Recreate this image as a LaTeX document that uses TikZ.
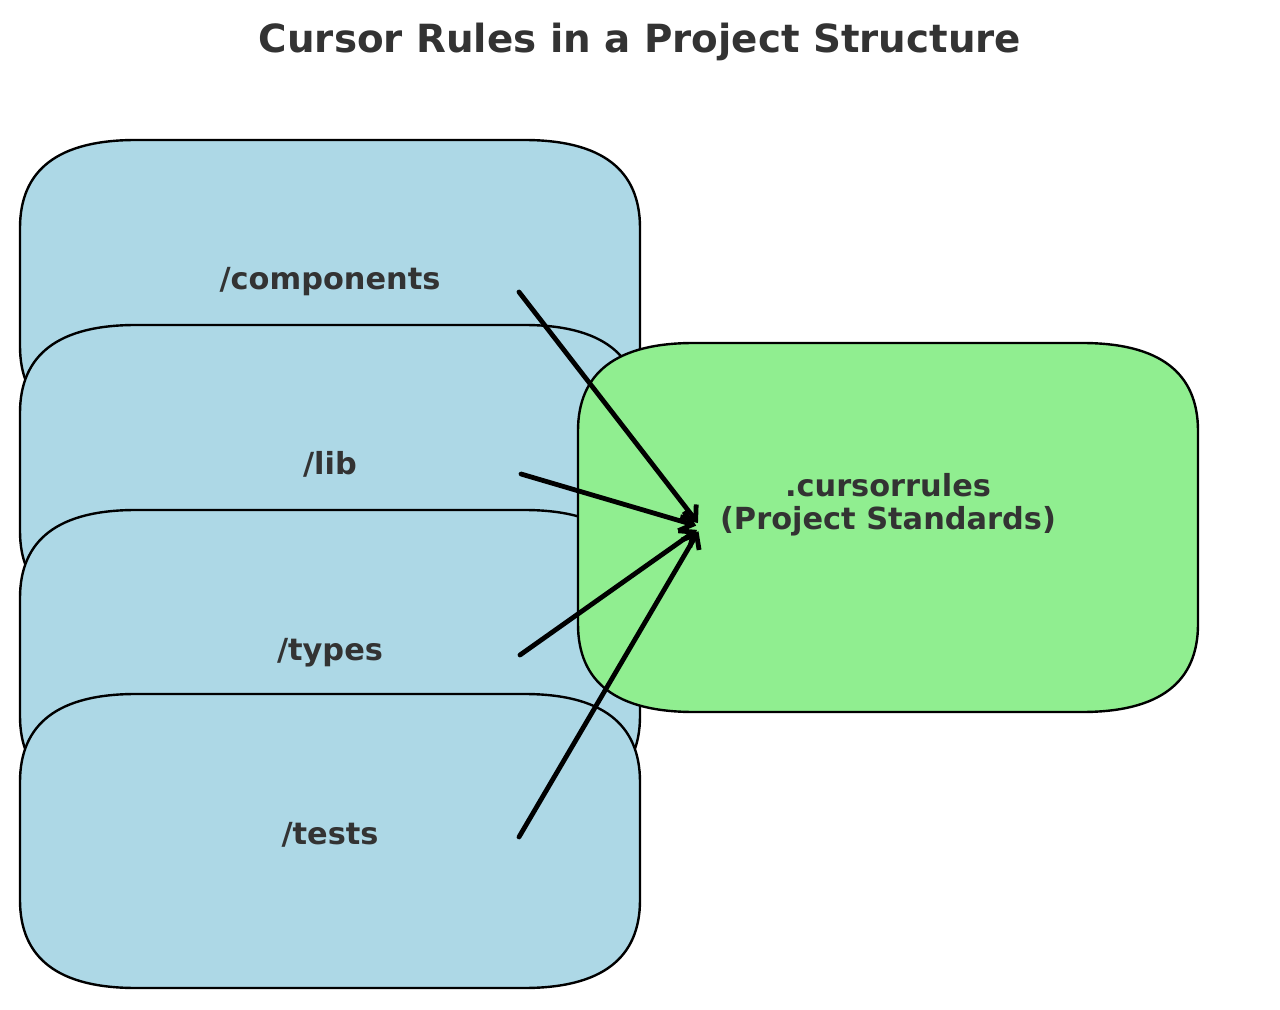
\documentclass[tikz,border=0pt]{standalone}
\usepackage{fontspec}
\setmainfont{DejaVu Sans}
\usetikzlibrary{arrows.meta}

\definecolor{boxblue}{HTML}{ADD8E6}
\definecolor{boxgreen}{HTML}{90EE90}
\definecolor{labelgray}{HTML}{333333}

% rounded box, corners as quadratic curves: x1, y1, x2, y2, fill
\newcommand{\roundbox}[5]{%
  \filldraw[boxline, fill=#5]
    (#1+\rx,#2) -- (#3-\rx,#2)
    .. controls (#3-\rx/3,#2) and (#3,#2+\ry/3) .. (#3,#2+\ry)
    -- (#3,#4-\ry)
    .. controls (#3,#4-\ry/3) and (#3-\rx/3,#4) .. (#3-\rx,#4)
    -- (#1+\rx,#4)
    .. controls (#1+\rx/3,#4) and (#1,#4-\ry/3) .. (#1,#4-\ry)
    -- (#1,#2+\ry)
    .. controls (#1,#2+\ry/3) and (#1+\rx/3,#2) .. (#1+\rx,#2)
    -- cycle;}

\tikzset{
  boxline/.style={draw=black, line width=1.2pt},
  dirlabel/.style={text=labelgray, font=\fontsize{15.2}{16.5}\selectfont\bfseries, anchor=base},
  rulelabel/.style={text=labelgray, font=\fontsize{15.2}{16.5}\selectfont\bfseries, align=center},
  feed/.style={line width=2.4pt, line cap=round, shorten >=2.5pt,
    -{Straight Barb[length=6pt,width=10pt]}}
}

\begin{document}
\begin{tikzpicture}[x=0.5pt,y=-0.5pt]

  \useasboundingbox (0,0) rectangle (1280,1010);

  \def\rx{116};
  \def\ry{88};

  % folders
  \def\Bl{20};
  \def\Br{640};
  \def\Bh{294};
  \foreach \t in {140,325,510,694}
  {
    \roundbox{\Bl}{\t}{\Br}{\t+\Bh}{boxblue}
  }

  % rules file
  \roundbox{578}{343}{1198}{712}{boxgreen}

  \node[text=labelgray, font=\fontsize{19.4}{22}\selectfont\bfseries]
       (title) at (640,42) {Cursor Rules in a Project Structure};

  \node[dirlabel] (comp)  at (330,290) {/components};
  \node[dirlabel] (lib)   at (330,475) {/lib};
  \node[dirlabel] (types) at (330,660) {/types};
  \node[dirlabel] (tests) at (330,844) {/tests};

  \node[rulelabel] (rules) at (888,505) {.cursorrules\\(Project Standards)};

  \coordinate (hub) at (701,527);
  \coordinate (comp-out)  at (519,292);
  \coordinate (lib-out)   at (521,474);
  \coordinate (types-out) at (520,655);
  \coordinate (tests-out) at (519,837);

  \draw[feed] (comp-out)--(hub);
  \draw[feed] (lib-out)--(hub);
  \draw[feed] (types-out)--(hub);
  \draw[feed] (tests-out)--(hub);

\end{tikzpicture}
\end{document}
